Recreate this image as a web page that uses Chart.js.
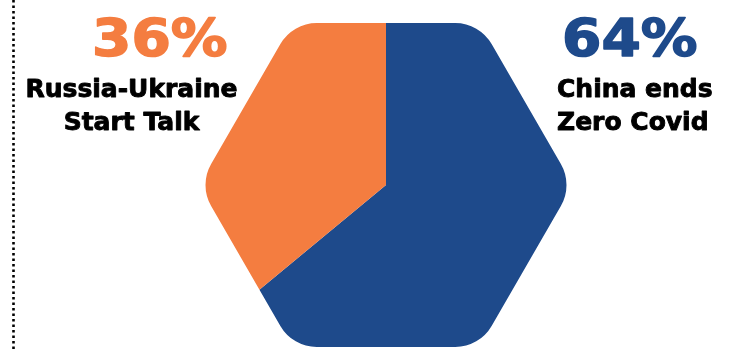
<!DOCTYPE html>
<html>
<head>
<meta charset="utf-8">
<script src="https://cdn.jsdelivr.net/npm/chart.js@4"></script>
<style>
  html, body { margin: 0; padding: 0; background: #fff; }
  #wrap { width: 740px; height: 350px; position: relative; }
</style>
</head>
<body>
<div id="wrap"><canvas id="pollChart"></canvas></div>
<script>
const outcomes = [['China ends', 'Zero Covid'], ['Russia-Ukraine', 'Start Talk']];
const shares = [64, 36];
const sliceColors = ['#1e4a8b', '#f47d40'];

// rounded hexagon used as the pie's outline
function hexPath(ctx, cx, cy, R, r) {
    const pts = [];
    for (let i = 0; i < 6; i++) {
        const a = Math.PI / 3 * i;
        pts.push([cx + R * Math.cos(a), cy + R * Math.sin(a)]);
    }
    ctx.beginPath();
    ctx.moveTo((pts[5][0] + pts[0][0]) / 2, (pts[5][1] + pts[0][1]) / 2);
    for (let i = 0; i < 6; i++) {
        const p = pts[i], n = pts[(i + 1) % 6];
        ctx.arcTo(p[0], p[1], n[0], n[1], r);
    }
    ctx.closePath();
}

const hexClip = {
    id: 'hexClip',
    beforeDatasetsDraw(chart) {
        const arc = chart.getDatasetMeta(0).data[0];
        const ctx = chart.ctx;
        ctx.save();
        hexPath(ctx, arc.x, arc.y, 187, 42);
        ctx.clip();
    },
    afterDatasetsDraw(chart) {
        chart.ctx.restore();
    }
};

// heavier text: fill plus a thin stroke of the same colour
function boldText(ctx, txt, x, y, w) {
    ctx.lineWidth = w;
    ctx.lineJoin = 'round';
    ctx.strokeStyle = ctx.fillStyle;
    ctx.strokeText(txt, x, y);
    ctx.fillText(txt, x, y);
}

const sideLabels = {
    id: 'sideLabels',
    afterDraw(chart) {
        const ctx = chart.ctx;
        const total = shares.reduce((a, b) => a + b, 0);
        const font = '"DejaVu Sans", sans-serif';

        // dotted rule on the left
        ctx.save();
        ctx.strokeStyle = '#000';
        ctx.lineWidth = 2.6;
        ctx.setLineDash([2.6, 2.9]);
        ctx.beginPath();
        ctx.moveTo(13.5, 0);
        ctx.lineTo(13.5, 350);
        ctx.stroke();
        ctx.restore();

        const spots = [
            { pctX: 562, nameX: 557, align: 'left' },
            { pctX: 92, nameX: 131.5, align: 'center' }
        ];
        ctx.save();
        ctx.textBaseline = 'alphabetic';
        shares.forEach((v, i) => {
            const s = spots[i];
            ctx.fillStyle = sliceColors[i];
            ctx.font = 'bold 51px ' + font;
            ctx.textAlign = 'left';
            ctx.save();
            ctx.translate(s.pctX, 56);
            ctx.scale(1.11, 1);
            boldText(ctx, Math.round(v / total * 100) + '%', 0, 0, 1.5);
            ctx.restore();
            ctx.fillStyle = '#000';
            ctx.font = 'bold 25px ' + font;
            ctx.textAlign = s.align;
            outcomes[i].forEach((line, j) => {
                boldText(ctx, line, s.nameX, 97 + j * 33, 0.9);
            });
        });
        ctx.restore();
    }
};

new Chart(document.getElementById('pollChart'), {
    type: 'pie',
    data: {
        labels: outcomes,
        datasets: [{
            data: shares,
            backgroundColor: sliceColors,
            borderWidth: 0,
            radius: 220
        }]
    },
    options: {
        responsive: true,
        maintainAspectRatio: false,
        animation: false,
        layout: { padding: { left: 32, top: 20, right: 0, bottom: 0 } },
        plugins: {
            legend: { display: false },
            tooltip: { enabled: false }
        }
    },
    plugins: [hexClip, sideLabels]
});
</script>
</body>
</html>
